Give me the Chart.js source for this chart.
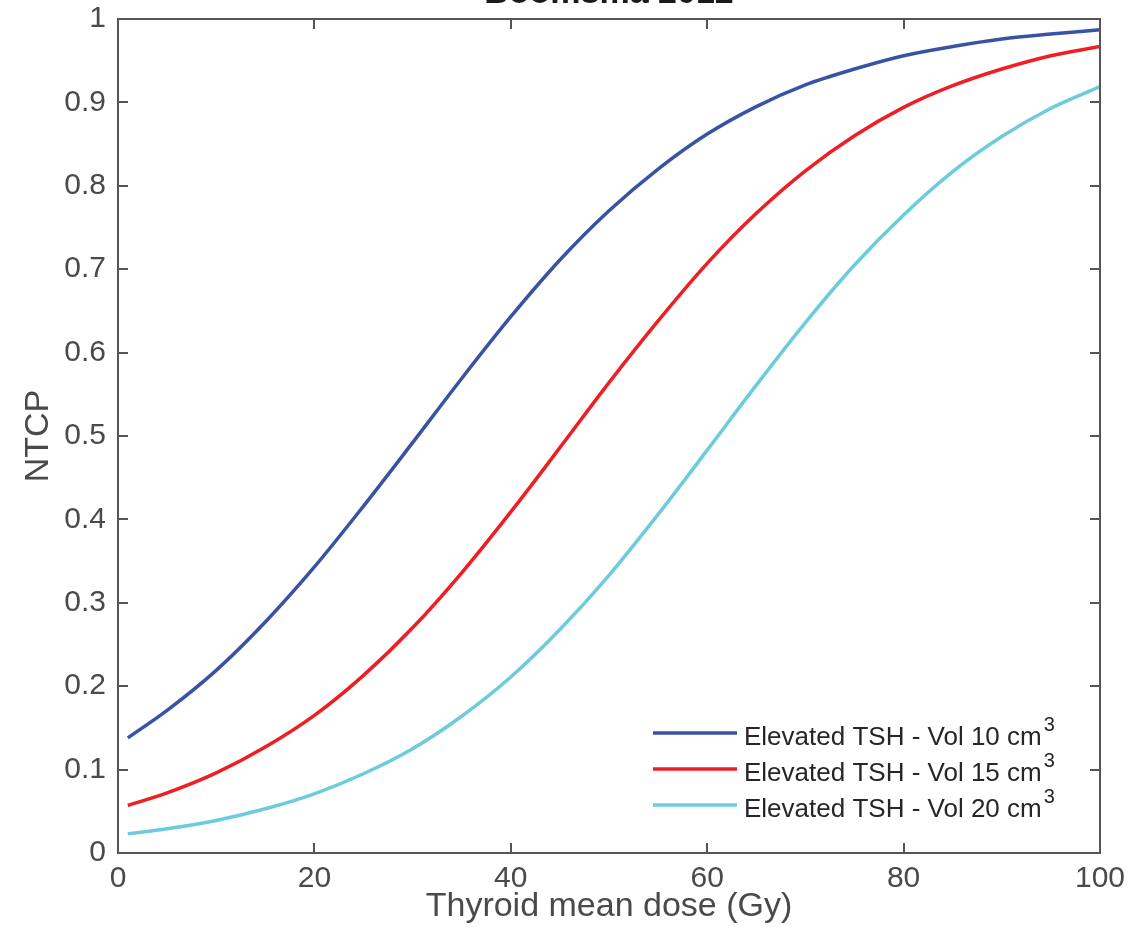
<!DOCTYPE html>
<html>
<head>
<meta charset="utf-8">
<script src="https://cdn.jsdelivr.net/npm/chart.js@4/dist/chart.umd.min.js"></script>
<style>
  html, body { margin: 0; padding: 0; background: #ffffff; }
  #wrap { width: 1128px; height: 944px; }
</style>
</head>
<body>
<div id="wrap"><canvas id="chart" width="1128" height="944"></canvas></div>
<script>
const doseGy = [1, 5, 10, 15, 20, 25, 30, 35, 40, 45, 50, 55, 60, 65, 70, 75, 80, 85, 90, 95, 100];

const ntcpVol10 = [0.138, 0.171, 0.219, 0.277, 0.343, 0.416, 0.492, 0.569, 0.643, 0.711, 0.770,
  0.820, 0.862, 0.895, 0.921, 0.940, 0.956, 0.967, 0.976, 0.982, 0.987];
const ntcpVol15 = [0.057, 0.072, 0.096, 0.127, 0.165, 0.213, 0.270, 0.336, 0.409, 0.486, 0.564,
  0.638, 0.707, 0.767, 0.818, 0.860, 0.894, 0.920, 0.940, 0.956, 0.967];
const ntcpVol20 = [0.023, 0.029, 0.039, 0.053, 0.071, 0.095, 0.125, 0.164, 0.211, 0.268, 0.333,
  0.406, 0.483, 0.561, 0.636, 0.705, 0.765, 0.817, 0.859, 0.893, 0.919];

const seriesNames = ["Elevated TSH - Vol 10 cm", "Elevated TSH - Vol 15 cm", "Elevated TSH - Vol 20 cm"];
const seriesColors = ["#3953a4", "#ed1f25", "#6dccdb"];
const chartTitle = "Boomsma 2012";

const FONT = "'Liberation Sans', Arial, Helvetica, sans-serif";
const AXIS_COLOR = "#555555";
const TEXT_COLOR = "#4a4a4a";

function toPoints(values) {
  return values.map((v, i) => ({ x: doseGy[i], y: v }));
}

// box, inward ticks, cut-off title and legend, drawn the matlab way
const matlabFrame = {
  id: "matlabFrame",
  afterDatasetsDraw(chart) {
    const { ctx, chartArea: area, scales } = chart;
    const tickLen = 10;
    ctx.save();
    ctx.strokeStyle = AXIS_COLOR;
    ctx.lineWidth = 2;
    ctx.strokeRect(area.left, area.top, area.right - area.left, area.bottom - area.top);

    ctx.beginPath();
    scales.x.ticks.forEach((t) => {
      const px = Math.round(scales.x.getPixelForValue(t.value));
      ctx.moveTo(px, area.bottom);
      ctx.lineTo(px, area.bottom - tickLen);
      ctx.moveTo(px, area.top);
      ctx.lineTo(px, area.top + tickLen);
    });
    scales.y.ticks.forEach((t) => {
      const py = Math.round(scales.y.getPixelForValue(t.value));
      ctx.moveTo(area.left, py);
      ctx.lineTo(area.left + tickLen, py);
      ctx.moveTo(area.right, py);
      ctx.lineTo(area.right - tickLen, py);
    });
    ctx.stroke();

    // title sits mostly above the canvas, like the cropped original
    ctx.fillStyle = "#1a1a1a";
    ctx.font = "bold 34px " + FONT;
    ctx.textAlign = "center";
    ctx.textBaseline = "alphabetic";
    ctx.fillText(chartTitle, (area.left + area.right) / 2, 3);

    // legend
    const lineX0 = 653, lineX1 = 737, textX = 744;
    const rowY = [736, 772, 808];
    chart.data.datasets.forEach((ds, i) => {
      const y = rowY[i];
      ctx.strokeStyle = ds.borderColor;
      ctx.lineWidth = 3.5;
      ctx.beginPath();
      ctx.moveTo(lineX0, y - 3);
      ctx.lineTo(lineX1, y - 3);
      ctx.stroke();

      const base = ds.label.replace("³", "");
      ctx.fillStyle = "#262626";
      ctx.textAlign = "left";
      ctx.textBaseline = "alphabetic";
      ctx.font = "26px " + FONT;
      ctx.fillText(base, textX, y + 9);
      const w = ctx.measureText(base).width;
      ctx.font = "20px " + FONT;
      ctx.fillText("3", textX + w + 2, y - 5);
    });
    ctx.restore();
  },
};

new Chart(document.getElementById("chart"), {
  type: "line",
  data: {
    datasets: [
      { label: seriesNames[0] + "³", data: toPoints(ntcpVol10), borderColor: seriesColors[0] },
      { label: seriesNames[1] + "³", data: toPoints(ntcpVol15), borderColor: seriesColors[1] },
      { label: seriesNames[2] + "³", data: toPoints(ntcpVol20), borderColor: seriesColors[2] },
    ].map((ds) => ({
      ...ds,
      borderWidth: 3.5,
      pointRadius: 0,
      fill: false,
      cubicInterpolationMode: "monotone",
    })),
  },
  options: {
    responsive: false,
    animation: false,
    layout: { padding: { left: 0, top: 19, right: 28, bottom: 0 } },
    plugins: {
      legend: { display: false },
      tooltip: { enabled: false },
      title: { display: false },
    },
    scales: {
      x: {
        type: "linear",
        min: 0,
        max: 100,
        ticks: {
          stepSize: 20,
          color: TEXT_COLOR,
          padding: 8,
          maxRotation: 0,
          font: { family: FONT, size: 30 },
        },
        grid: { display: false, drawTicks: false },
        border: { display: false },
        title: {
          display: true,
          text: "Thyroid mean dose (Gy)",
          color: TEXT_COLOR,
          padding: { top: 0, bottom: 17 },
          font: { family: FONT, size: 34 },
        },
        afterFit(scale) {
          scale.height = 91;
          scale.paddingLeft = 0;
          scale.paddingRight = 0;
        },
      },
      y: {
        min: 0,
        max: 1,
        ticks: {
          stepSize: 0.1,
          color: TEXT_COLOR,
          padding: 12,
          font: { family: FONT, size: 30 },
          callback: (v) => String(Math.round(v * 10) / 10),
        },
        grid: { display: false, drawTicks: false },
        border: { display: false },
        title: {
          display: true,
          text: "NTCP",
          color: TEXT_COLOR,
          padding: { top: 18, bottom: 0 },
          font: { family: FONT, size: 34 },
        },
        afterFit(scale) {
          scale.width = 118;
          scale.paddingTop = 0;
          scale.paddingBottom = 0;
        },
      },
    },
  },
  plugins: [matlabFrame],
});
</script>
</body>
</html>
